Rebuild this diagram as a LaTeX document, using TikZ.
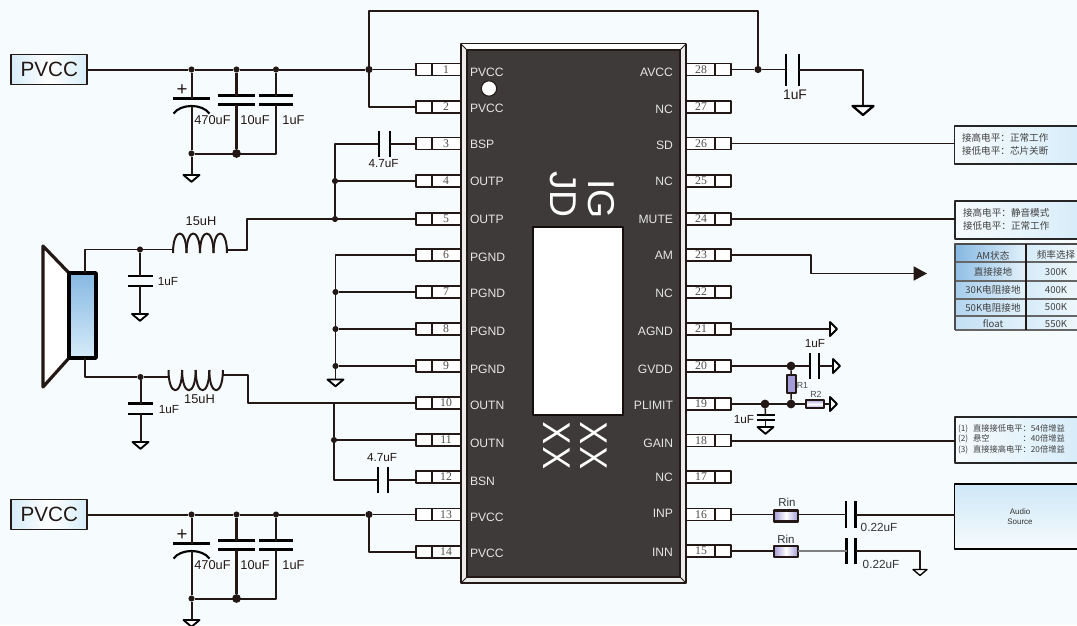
\documentclass[tikz,border=0pt]{standalone}
\usepackage{fontspec}
\setmainfont{Liberation Sans}
\newfontfamily\cjk{Noto Sans CJK SC}
\newfontfamily\markfont{Open Sans}
\newfontfamily\numfont{Liberation Serif}
\usepackage{tikz}
\usetikzlibrary{arrows.meta}
\usetikzlibrary{calc}
\usepackage{xcolor}
\definecolor{ink}{HTML}{231815}
\definecolor{paper}{HTML}{F6FBFD}
\definecolor{chipgray}{HTML}{3E3A39}
\definecolor{noteblue}{HTML}{D6ECF9}
\definecolor{tableblue}{HTML}{86B8E2}
\definecolor{resblue}{HTML}{A49CD6}

\begin{document}
\begin{tikzpicture}[
			x=0.75pt, y=-0.75pt,
			line join=round,
			every node/.style={inner sep=0pt, outer sep=0pt},
			wire/.style={draw=ink, line width=1.5pt},
			thinwire/.style={draw=ink, line width=1.15pt},
			plate/.style={draw=black, line width=2.1pt},
			gndmark/.style={draw=black, line width=1.4pt, fill=white},
			dot/.style={circle, fill=ink, minimum size=4.6pt},
			bigdot/.style={circle, fill=ink, minimum size=6.6pt},
			lbl/.style={text=ink, font=\fontsize{9.6}{11}\selectfont},
			smalllbl/.style={text=ink, font=\fontsize{6.6}{8}\selectfont},
			pinbox/.style={draw=ink, line width=1.3pt, fill=white, minimum width=33.75pt, minimum height=9pt},
			pinnum/.style={text=black!70, font=\numfont\fontsize{8.8}{9}\selectfont},
			pinname/.style={text=white!90!black, font=\fontsize{9.1}{10}\selectfont},
			supply/.style={draw=ink, line width=1.3pt, left color=noteblue, right color=noteblue, middle color=white, minimum width=57pt, minimum height=22.5pt, font=\fontsize{15.5}{17}\selectfont, text=ink},
			notetext/.style={text=black!75, font=\cjk\fontsize{7.2}{9.6}\selectfont, align=left},
			cell/.style={text=black!75, font=\cjk\fontsize{7.2}{9}\selectfont},
			resbox/.style={draw=ink, line width=1.9pt, left color=resblue, right color=resblue, middle color=white}
		]
		% Page
		\clip (0,0) rectangle (1077,625);
		\fill[paper] (0,0) rectangle (1077,625);

		% Part macros
		\newcommand{\plateh}[4]{%
			\coordinate (#1) at (#2,#3);
			\draw[plate] (#2-#4,#3) -- (#2+#4,#3);
		}
		\newcommand{\platev}[4]{%
			\coordinate (#1) at (#2,#3);
			\draw[plate] (#2,#3-#4) -- (#2,#3+#4);
		}
		\newcommand{\gnddown}[4][8]{%
			\coordinate (#2) at (#3,#4);
			\draw[gndmark] (#3-#1,#4) -- (#3+#1,#4) -- (#3,#4+0.85*#1) -- cycle;
		}
		\newcommand{\gndright}[3]{%
			\coordinate (#1) at (#2,#3);
			\draw[gndmark] (#2,#3-7) -- (#2,#3+7) -- (#2+7,#3) -- cycle;
		}

		% Pins
		\foreach \n/\y/\nm in {1/69.5/PVCC,2/107/PVCC,3/143.5/BSP,4/181/OUTP,5/219/OUTP,6/255/PGND,7/292/PGND,
				8/329/PGND,9/366/PGND,10/403/OUTN,11/440/OUTN,12/477/BSN,13/514.5/PVCC,14/552/PVCC}{
				\node[pinbox] (L\n) at (438.5,\y) {};
				\draw[ink, line width=1pt] (432,\y-6) -- (432,\y+6);
				\node[pinnum] (LN\n) at (446,\y) {\n};
			}
		\foreach \n/\y/\nm in {28/69.5/AVCC,27/107/NC,26/143.5/SD,25/181/NC,24/219/MUTE,23/255/AM,22/292/NC,
				21/329/AGND,20/366/GVDD,19/404/PLIMIT,18/440.5/GAIN,17/477/NC,16/514.5/INP,15/551/INN}{
				\node[pinbox] (R\n) at (708.5,\y) {};
				\draw[ink, line width=1pt] (715,\y-6) -- (715,\y+6);
				\node[pinnum] (RN\n) at (701,\y) {\n};
			}

		% Chip body
		\node[draw=ink, line width=1.3pt, fill=white!92!black, minimum width=168.75pt, minimum height=404.25pt] (ic) at (573.5,313.5) {};
		\fill[white] (461,44) -- (686,44) -- (680,50) -- (467,50) -- cycle;
		\draw[ink, line width=0.7pt] (461,44) -- (467,50) (686,44) -- (680,50) (461,583) -- (467,577) (686,583) -- (680,577);
		\node[draw=ink, line width=1pt, fill=chipgray, minimum width=159.75pt, minimum height=395.25pt] (icin) at (573.5,313.5) {};
		\node[circle, draw=ink, line width=0.8pt, fill=white, minimum size=11.5pt] (mark) at (489,88.5) {};
		\node[draw=ink!60!black, line width=1.5pt, fill=white, minimum width=67.5pt, minimum height=141pt] (window) at (577.7,321) {};
		\node[rotate=-90, text=white, font=\fontsize{28}{30}\selectfont] (jd) at (563.5,194.5) {JD};
		\node[rotate=-90, text=white, font=\fontsize{28}{30}\selectfont] (ig) at (601.5,199) {IG};
		\node[rotate=-90, text=white, font=\markfont\fontsize{28}{30}\selectfont] (xa) at (556.5,445.5) {X\kern2.7ptX};
		\node[rotate=-90, text=white, font=\markfont\fontsize{28}{30}\selectfont] (xb) at (593.5,445.5) {X\kern2.7ptX};

		% Pin names
		\foreach \n/\y/\nm in {1/72/PVCC,2/108/PVCC,3/144.5/BSP,4/181.5/OUTP,5/219.5/OUTP,6/257/PGND,7/293.5/PGND,
				8/331/PGND,9/369/PGND,10/405.5/OUTN,11/443/OUTN,12/481/BSN,13/517/PVCC,14/553/PVCC}{
				\node[pinname, anchor=west] (LL\n) at (470,\y) {\nm};
			}
		\foreach \n/\y/\nm in {28/72/AVCC,27/109.5/NC,26/145.5/SD,25/181.5/NC,24/219/MUTE,23/255/AM,22/293.5/NC,
				21/331/AGND,20/369/GVDD,19/405.5/PLIMIT,18/443/GAIN,17/477/NC,16/513.5/INP,15/552/INN}{
				\node[pinname, anchor=east] (RL\n) at (673,\y) {\nm};
			}

		% Supply banks
		\foreach \t/\off in {a/0,b/445}{
				\node[supply] (PV\t) at (49.3,69.5+\off) {PVCC};
				\node[dot] (Ja\t) at (191.5,69.5+\off) {};
				\node[dot] (Jb\t) at (236.5,69.5+\off) {};
				\node[dot] (Jc\t) at (276,69.5+\off) {};
				\node[dot, minimum size=5.4pt] (Jd\t) at (369,69.5+\off) {};
				\node[dot] (Je\t) at (191.5,153.5+\off) {};
				\node[bigdot] (Jf\t) at (236.5,153.5+\off) {};
				\coordinate (Jg\t) at (276,153.5+\off);

				\plateh{Ca\t}{191.5}{98.5+\off}{18.5}
				\plateh{Cb\t}{236.5}{95.5+\off}{18.5}
				\plateh{Cc\t}{236.5}{104.5+\off}{18.5}
				\plateh{Cd\t}{276}{95.5+\off}{17}
				\plateh{Ce\t}{276}{104.5+\off}{17}
				\draw[black, line width=1.6pt] (173.5,113.5+\off) .. controls (181,103.5+\off) and (202,103.5+\off) .. (209.5,113.5+\off);
				\coordinate (Cf\t) at (191.5,106+\off);
				\gnddown{G\t}{191.5}{175+\off}

				\draw[wire] (PV\t) -- (Ja\t) -- (Jb\t) -- (Jc\t) -- (Jd\t);
				\draw[wire] (Ja\t) -- (Ca\t);
				\draw[wire] (Cf\t) -- (Je\t) -- (G\t);
				\draw[wire, line width=1.9pt] (Jb\t) -- (Cb\t) (Cc\t) -- (Jf\t);
				\draw[wire, line width=1.9pt] (Jc\t) -- (Cd\t);
				\draw[wire] (Ce\t) -- (Jg\t) -- (Je\t);

				\node[lbl] (Tp\t) at (182,90+\off) {\fontsize{14}{14}\selectfont +};
				\node[lbl] (Ta\t) at (212.5,120+\off) {470uF};
				\node[lbl] (Tb\t) at (255,120+\off) {10uF};
				\node[lbl] (Tc\t) at (293.5,120+\off) {1uF};
			}
		\draw[thinwire] (Jda) -- (L1.west);
		\draw[wire] (Jda) |- (L2.west);
		\coordinate (Ta) at (369,11);
		\coordinate (Tb) at (758,11);
		\node[dot, minimum size=5.4pt] (Jh) at (758,69.5) {};
		\draw[wire] (Jda) -- (Ta) -- (Tb) -- (Jh);
		\draw[thinwire] (Jdb) -- (L13.west);
		\draw[wire] (Jdb) |- (L14.west);

		% Bootstrap caps and outputs
		\platev{Bsa}{379}{143.5}{13}
		\platev{Bsb}{390}{143.5}{13}
		\node[dot] (Jk) at (335,181) {};
		\node[dot] (Jl) at (335,219) {};
		\draw[wire] (L3.west) -- (Bsb);
		\draw[wire] (Bsa) -| (Jk);
		\draw[wire] (Jk) -- (Jl);
		\draw[wire] (Jk) -- (L4.west);
		\draw[wire] (Jl) -- (L5.west);
		\node[lbl, font=\fontsize{8.8}{10}\selectfont] (Bst) at (383.5,164) {4.7uF};

		\platev{Bna}{378}{480}{13}
		\platev{Bnb}{388}{480}{13}
		\node[dot] (Jm) at (334,440) {};
		\coordinate (Jn) at (334,403);
		\draw[wire] (Bnb) -- (Bnb -| L12.west);
		\draw[wire] (Jn) -- (Jm) |- (Bna);
		\draw[thinwire] (Jm) -- (L11.west);
		\node[lbl, font=\fontsize{8.8}{10}\selectfont] (Bnt) at (382,457.5) {4.7uF};

		% Ground rail
		\node[dot] (Ju) at (335.5,292) {};
		\node[dot] (Jv) at (335.5,329) {};
		\node[dot] (Jw) at (335.5,366) {};
		\gnddown{Grail}{335.5}{379.5}
		\coordinate (Jt) at (335.5,255);
		\draw[thinwire] (L6.west) -- (Jt) -- (Ju) -- (Jv) -- (Jw) -- (Grail);
		\draw[wire] (Ju) -- (L7.west);
		\draw[wire] (Jv) -- (L8.west);
		\draw[wire] (Jw) -- (L9.west);

		% Speaker
		\draw[ink, line width=2.4pt, fill=white] (43,246) -- (69,273) -- (69,358) -- (43,387) -- cycle;
		\node[draw=black, line width=2.6pt, top color=tableblue, bottom color=noteblue, minimum width=20.25pt, minimum height=63.75pt] (spk) at (82.5,315.5) {};

		% Upper inductor
		\coordinate (Ua) at (173,249.5);
		\coordinate (Ub) at (227,249.5);
		\coordinate (Uc) at (247,249.5);
		\coordinate (Ud) at (247,219);
		\coordinate (Ue) at (85,249.5);
		\foreach \x in {173,186.5,200,213.5}{
				\draw[ink, line width=1.5pt] (\x,253) .. controls (\x,227) and (\x+13.5,227) .. (\x+13.5,253);
			}
		\node[dot] (Jp) at (140,249.5) {};
		\draw[thinwire] (spk.north -| Ue) -- (Ue) -- (Jp) -- (Ua);
		\draw[wire] (Ub) -- (Uc) -- (Ud) -- (Jl);
		\plateh{Cg}{140}{276}{12.5}
		\plateh{Ch}{140}{286}{12.5}
		\gnddown{Gc}{140}{314}
		\draw[wire] (Jp) -- (Cg);
		\draw[wire] (Ch) -- (Gc);
		\node[lbl, font=\fontsize{8.8}{10}\selectfont] (Tu) at (168,281.5) {1uF};
		\node[lbl] (Tv) at (201,221.5) {15uH};

		% Lower inductor
		\coordinate (Va) at (168.5,377);
		\coordinate (Vb) at (223,374.5);
		\coordinate (Vc) at (248,374.5);
		\coordinate (Vd) at (248,403);
		\coordinate (Ve) at (85,377);
		\foreach \x in {168.5,182.1,195.7,209.3}{
				\draw[ink, line width=1.5pt] (\x,370) .. controls (\x,397) and (\x+13.6,397) .. (\x+13.6,370);
			}
		\node[dot] (Jq) at (140.5,377) {};
		\draw[thinwire] (spk.south -| Ve) -- (Ve) -- (Jq) -- (Va);
		\draw[wire] (Vb) -- (Vc) -- (Vd) -- (L10.west);
		\plateh{Ci}{140.5}{403.7}{12.5}
		\plateh{Cj}{140.5}{414}{12.5}
		\gnddown{Gd}{140.5}{442}
		\draw[wire] (Jq) -- (Ci);
		\draw[wire] (Cj) -- (Gd);
		\node[lbl, font=\fontsize{8.8}{10}\selectfont] (Tw) at (169,409.5) {1uF};
		\node[lbl] (Tx) at (199.5,399) {15uH};

		% AVCC decoupling
		\platev{Ck}{786}{69.5}{16}
		\platev{Cl}{799}{69.5}{16}
		\coordinate (Wa) at (863,69.5);
		\draw[thinwire] (R28.east) -- (Jh) -- (Ck);
		\draw[wire] (Cl) -- (Wa) -- (863,106);
		\begin{scope}[gndmark/.append style={line width=1.7pt}]
			\gnddown[10.5]{Ge}{863}{106}
		\end{scope}
		\node[lbl, font=\fontsize{10.4}{12}\selectfont] (Ty) at (795,95) {1uF};

		% Notes
		\node[draw=black!85, line width=0.8pt, left color=paper, right color=noteblue, minimum width=96pt, minimum height=28.5pt, anchor=west] (SDn) at (954.5,145) {};
		\node[draw=black!85, line width=0.8pt, left color=paper, right color=noteblue, minimum width=96pt, minimum height=28.5pt, anchor=west] (MUn) at (955,220) {};
		\node[notetext, anchor=west] (SDt) at (962,144.5) {接高电平：正常工作\\接低电平：芯片关断};
		\node[notetext, anchor=west] (MUt) at (963,219) {接高电平：静音模式\\接低电平：正常工作};
		\coordinate (Xa) at (954.5,143.5);
		\coordinate (Xb) at (955,219);
		\draw[thinwire] (R26.east) -- (Xa);
		\draw[thinwire] (R24.east) -- (Xb);

		% AM line
		\coordinate (Ya) at (811,255);
		\coordinate (Yb) at (811,273.5);
		\coordinate (Yc) at (927,273.5);
		\draw[thinwire, -{Triangle[length=10pt,width=10.5pt]}] (R23.east) -- (Ya) -- (Yb) -- (Yc);

		% AM table
		\foreach \row/\ya/\yb/\shd in {0/244/262/100,1/262/281/85,2/281/299/60,3/299/316/45,4/316/330/25}{
				\shade[left color=tableblue!\shd!noteblue, right color=noteblue!70!white] (955,\ya) rectangle (1026,\yb);
				\shade[left color=noteblue, right color=noteblue!40!white] (1026,\ya) rectangle (1080,\yb);
			}
		\foreach \yb in {262,281,299,316,330}{
				\draw[black!60, line width=0.8pt] (955,\yb) -- (1080,\yb);
			}
		\draw[black!70, line width=1pt] (1080,244) -- (955,244) -- (955,330);
		\draw[ink, line width=0.9pt] (1026,244) -- (1026,330);
		\foreach \row/\tya/\tyb/\ca/\cb in {0/256/255/AM状态/频率选择,1/272/272/直接接地/300K,2/290/290/30K电阻接地/400K,
				3/308/307/50K电阻接地/500K,4/324/324/float/550K}{
				\node[cell] (Ta\row) at (993,\tya) {\ca};
				\node[cell] (Tb\row) at (1056,\tyb) {\cb};
			}

		% AGND and GVDD network
		\gndright{Gf}{830}{329}
		\draw[thinwire] (R21.east) -- (Gf);
		\node[bigdot] (Ka) at (791,366) {};
		\node[bigdot] (Kb) at (791,404) {};
		\node[bigdot] (Kc) at (765,404) {};
		\platev{Cm}{810}{366}{13}
		\platev{Cn}{819}{366}{13}
		\gndright{Gg}{833}{366}
		\draw[thinwire] (R20.east) -- (Ka) -- (Cm);
		\draw[thinwire] (Cn) -- (Gg);
		\node[resbox, line width=1.4pt, minimum width=6.6pt, minimum height=13.5pt, left color=resblue, right color=resblue] (Rone) at (791.3,384) {};
		\node[resbox, line width=1.4pt, minimum width=13.5pt, minimum height=6.6pt, top color=resblue, bottom color=resblue, middle color=white] (Rtwo) at (815,404) {};
		\draw[thinwire] (Ka) -- (Rone) -- (Kb);
		\gndright{Gh}{830}{404}
		\draw[thinwire] (R19.east) -- (Kc) -- (Kb) -- (Rtwo) -- (Gh);
		\node[smalllbl, text=black!70] (Tr) at (802.5,385) {R1};
		\node[smalllbl, text=black!70] (Ts) at (816,394) {R2};
		\node[lbl, font=\fontsize{8.8}{10}\selectfont] (Tt) at (815,344) {1uF};
		\plateh{Co}{765.5}{415}{9}
		\plateh{Cp}{765.5}{420}{9}
		\gnddown{Gi}{765.5}{427}
		\draw[thinwire] (Kc) -- (Co);
		\draw[thinwire] (Cp) -- (Gi);
		\node[lbl, font=\fontsize{8.8}{10}\selectfont] (Tn) at (744,420) {1uF};

		% Gain note
		\node[draw=black!85, line width=0.8pt, left color=paper, right color=noteblue, minimum width=96pt, minimum height=34.5pt, anchor=west] (GAn) at (955,440) {};
		\coordinate (Xc) at (955,440.5);
		\draw[wire] (R18.east) -- (Xc);
		\node[notetext, anchor=west, font=\cjk\fontsize{6.2}{7.9}\selectfont] (GAt) at (958,439) {%
			\makebox[11.25pt][l]{(1)}直接接低电平：54倍增益\\
			\makebox[11.25pt][l]{(2)}\makebox[6em][l]{悬空}：40倍增益\\
			\makebox[11.25pt][l]{(3)}直接接高电平：20倍增益};

		% Audio inputs
		\node[draw=black, line width=0.9pt, top color=noteblue!90!tableblue, bottom color=paper, minimum width=96pt, minimum height=48.75pt, anchor=west] (src) at (954.5,516.5) {};
		\node[text=black!80, font=\fontsize{6}{7.5}\selectfont, align=center] (srct) at (1020,517) {Audio\\Source};
		\node[resbox, minimum width=18pt, minimum height=8.2pt] (Rp) at (786,516) {};
		\node[resbox, minimum width=18pt, minimum height=8.2pt] (Rn) at (786,551.5) {};
		\platev{Cq}{846}{514.5}{13.5}
		\platev{Cr}{855.5}{514.5}{13.5}
		\platev{Cs}{846.5}{551}{13}
		\platev{Cu}{855.5}{551}{13}
		\coordinate (Za) at (954.5,514.5);
		\coordinate (Zb) at (920,551);
		\draw[thinwire] (R16.east) -- (R16.east -| Rp.west);
		\draw[thinwire] (Rp.east |- Cq) -- (Cq);
		\draw[wire] (Cr) -- (Za);
		\draw[thinwire] (R15.east) -- (R15.east -| Rn.west);
		\draw[thinwire, draw=black!50] (Rn.east |- Cs) -- (Cs);
		\draw[thinwire] (Cu) -- (Zb) -- (920,569.5);
		\begin{scope}[gndmark/.append style={line width=1pt}]
			\gnddown[7]{Gj}{920}{569.5}
		\end{scope}
		\node[lbl, font=\fontsize{8.6}{10}\selectfont, text=black!80] (Tp) at (787,502) {Rin};
		\node[lbl, font=\fontsize{8.6}{10}\selectfont, text=black!80] (Tq) at (786,539.5) {Rin};
		\node[lbl, font=\fontsize{8.8}{10}\selectfont, text=black!80] (To) at (879,527) {0.22uF};
		\node[lbl, font=\fontsize{8.8}{10}\selectfont, text=black!80] (Tz) at (881,564) {0.22uF};

	\end{tikzpicture}
\end{document}
